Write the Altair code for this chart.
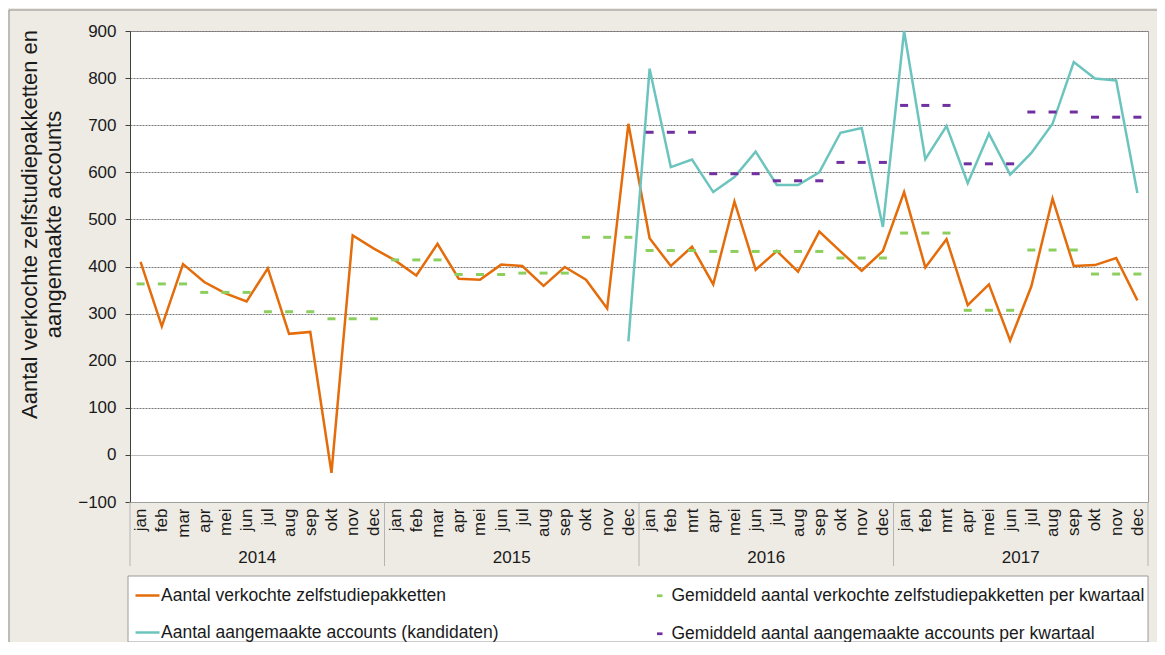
import json
import altair as alt
import pandas as pd

FONT = "Liberation Sans"

years = ["2014", "2015", "2016", "2017"]
months_a = ["jan", "feb", "mar", "apr", "mei", "jun", "jul", "aug", "sep", "okt", "nov", "dec"]
months_b = ["jan", "feb", "mrt", "apr", "mei", "jun", "jul", "aug", "sep", "okt", "nov", "dec"]
month_labels = months_a + months_a + months_b + months_b

# Aantal verkochte zelfstudiepakketten (jan 2014 - dec 2017)
verkocht = [410, 273, 405, 367, 343, 326, 396, 257, 261, -38, 466, 438,
            413, 381, 448, 374, 372, 404, 401, 359, 399, 372, 311, 703,
            460, 401, 442, 362, 538, 393, 433, 389, 474, 432, 391, 433,
            558, 398, 458, 318, 362, 243, 358, 544, 401, 403, 418, 328]
# Gemiddeld per kwartaal (Q1 2014 - Q4 2017)
verkocht_kwartaal = [363, 345, 304, 289, 414, 383, 386, 462,
                     434, 432, 432, 418, 471, 307, 435, 384]
# Aantal aangemaakte accounts (dec 2015 - dec 2017)
accounts_start_month = 23
accounts = [241,
            820, 611, 627, 558, 590, 644, 573, 573, 600, 684, 694, 484,
            900, 628, 698, 577, 682, 595, 641, 703, 834, 799, 795, 556]
# Gemiddeld per kwartaal (Q1 2016 - Q4 2017)
accounts_kwartaal_start_q = 8
accounts_kwartaal = [685, 597, 582, 621, 742, 618, 728, 717]

S1 = "Aantal verkochte zelfstudiepakketten"
S2 = "Aantal aangemaakte accounts (kandidaten)"
S3 = "Gemiddeld aantal verkochte zelfstudiepakketten per kwartaal"
S4 = "Gemiddeld aantal aangemaakte accounts per kwartaal"

ORANGE = "#E46C0A"
TEAL = "#6CC4BE"
GREEN = "#8DCF5F"
PURPLE = "#7030A0"

line_rows = [{"m": i + 0.5, "v": v, "reeks": S1} for i, v in enumerate(verkocht)]
line_rows2 = [{"m": accounts_start_month + j + 0.5, "v": v, "reeks": S2} for j, v in enumerate(accounts)]
tick_rows = []
for q, v in enumerate(verkocht_kwartaal):
    for k in range(3):
        tick_rows.append({"m": q * 3 + k + 0.5, "v": v, "gem": S3})
for q, v in enumerate(accounts_kwartaal):
    for k in range(3):
        tick_rows.append({"m": (accounts_kwartaal_start_q + q) * 3 + k + 0.5, "v": v, "gem": S4})

df1 = pd.DataFrame(line_rows)
df2 = pd.DataFrame(line_rows2)
dft = pd.DataFrame(tick_rows)
df_year = pd.DataFrame({"year": years, "mid": [6, 18, 30, 42]})
df_sep = pd.DataFrame({"b": [0, 12, 24, 36, 48]})
dummy = pd.DataFrame({"a": [0]})

W, H = 1018, 471

xscale = alt.Scale(domain=[0, 48], nice=False, zero=False)
yscale = alt.Scale(domain=[-100, 900], nice=False, zero=False)

x_axis = alt.Axis(
    values=[i + 0.5 for i in range(48)],
    labelExpr=json.dumps(month_labels) + "[floor(datum.value)]",
    labelAngle=-90, labelPadding=6, labelFontSize=17, labelColor="#1a1a1a",
    labelFlush=False, labelOverlap=False, labelBound=False, labelSeparation=0,
    ticks=False, grid=False, domainColor="#a0a0a0", title=None,
)
y_axis = alt.Axis(
    values=list(range(-100, 901, 100)),
    tickSize=5, tickColor="#404040", domainColor="#404040",
    labelPadding=9, labelFontSize=17, labelColor="#1a1a1a",
    grid=True,
    gridDash={"condition": {"test": "datum.value === 0", "value": []}, "value": [2, 1]},
    gridColor={"condition": {"test": "datum.value === 0", "value": "#bdbdbd"}, "value": "#777777"},
    title=["Aantal verkochte zelfstudiepakketten en", "aangemaakte accounts"],
    titleFontSize=22, titleFontWeight="normal", titleColor="#1a1a1a",
    titleAngle=270, titleAlign="center", titleBaseline="top",
    titleX=-111, titleY=193, titleLineHeight=24,
)

stroke_scale = alt.Scale(domain=[S1, S2], range=[ORANGE, TEAL])
fill_scale = alt.Scale(domain=[S3, S4], range=[GREEN, PURPLE])

legend1 = alt.Legend(
    orient="none", legendX=4, legendY=551, title=None,
    symbolType="stroke", symbolSize=576, symbolStrokeWidth=2.5,
    labelFontSize=17.5, labelOffset=0, labelColor="#1a1a1a", labelLimit=600,
    rowPadding=15, padding=0,
)
legend2 = alt.Legend(
    orient="none", legendX=521, legendY=556, title=None,
    symbolType="M-1,-0.5H1V0.5H-1Z", symbolSize=30, symbolStrokeWidth=0,
    symbolOpacity=1,
    labelFontSize=17.5, labelOffset=3, labelColor="#1a1a1a", labelLimit=600,
    rowPadding=19, padding=0,
)

frame_left = alt.Chart(dummy).mark_rule(color="#8c8c8c").encode(
    x=alt.value(-121), y=alt.value(-21), y2=alt.value(640))
frame_top = alt.Chart(dummy).mark_rule(color="#8c8c8c").encode(
    x=alt.value(-121), x2=alt.value(1040), y=alt.value(-21))
legend_box = alt.Chart(dummy).mark_rect(fill="white", stroke="#9a9a9a", strokeWidth=1).encode(
    x=alt.value(-2), x2=alt.value(1018), y=alt.value(545), y2=alt.value(611))

X = alt.X("m:Q", scale=xscale, axis=x_axis)
Y = alt.Y("v:Q", scale=yscale, axis=y_axis)

line1 = alt.Chart(df1).mark_line(strokeWidth=2.5).encode(
    x=X, y=Y,
    stroke=alt.Stroke("reeks:N", scale=stroke_scale, legend=legend1),
)
line2 = alt.Chart(df2).mark_line(strokeWidth=2.5).encode(
    x=X, y=Y,
    stroke=alt.Stroke("reeks:N", scale=stroke_scale, legend=legend1),
)
ticks = alt.Chart(dft).mark_tick(orient="horizontal", thickness=3, size=8, opacity=1).encode(
    x=X, y=Y,
    fill=alt.Fill("gem:N", scale=fill_scale, legend=legend2),
)
seps = alt.Chart(df_sep).mark_rule(color="#b4b4b4").encode(
    x=alt.X("b:Q", scale=xscale, axis=x_axis), y=alt.value(H), y2=alt.value(H + 64))
year_text = alt.Chart(df_year).mark_text(fontSize=17, font=FONT, color="#1a1a1a", baseline="middle").encode(
    x=alt.X("mid:Q", scale=xscale, axis=x_axis), y=alt.value(H + 56), text="year:N")

chart = alt.layer(
    frame_left, frame_top, legend_box, line1, line2, ticks, seps, year_text
).properties(
    width=W, height=H,
    autosize=alt.AutoSizeParams(type="none"),
    padding={"left": 122, "top": 23, "right": 9, "bottom": 140},
    background="#EEEBE4",
).configure_view(
    fill="white", stroke="#9a9a9a", strokeWidth=1,
).configure_axis(
    labelFont=FONT, titleFont=FONT, labelOverlap=False,
).configure_legend(
    labelFont=FONT,
)

chart.save("out.html", embed_options={"renderer": "svg", "actions": False})
